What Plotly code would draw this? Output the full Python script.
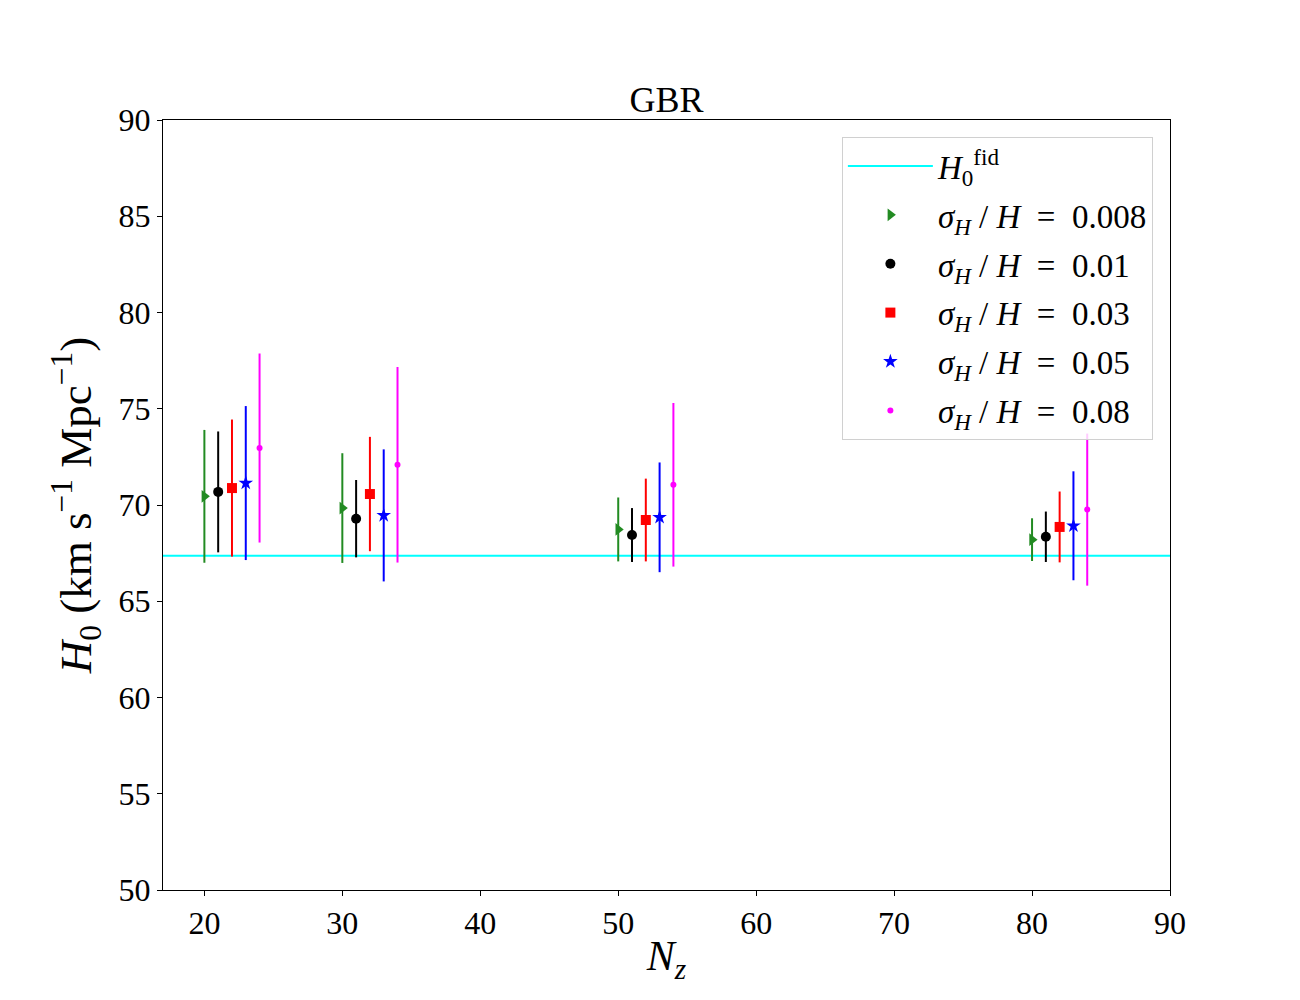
import plotly.graph_objects as go

# ---- data ----
N_groups = [20, 30, 50, 80]
offsets = [0, 1, 2, 3, 4]
labels = ["0.008", "0.01", "0.03", "0.05", "0.08"]
colors = ["forestgreen", "black", "red", "blue", "magenta"]
symbols = ["triangle-right", "circle", "square", "star", "circle"]
sizes = [11, 10, 10, 11, 6]

H0_008 = [70.45, 69.84, 68.73, 68.20]
E_008 = [3.45, 2.85, 1.66, 1.11]
H0_01 = [70.68, 69.29, 68.44, 68.35]
E_01 = [3.14, 2.01, 1.40, 1.31]
H0_03 = [70.88, 70.57, 69.22, 68.86]
E_03 = [3.56, 2.97, 2.15, 1.84]
H0_05 = [71.14, 69.46, 69.36, 68.92]
E_05 = [4.00, 3.43, 2.85, 2.83]
H0_08 = [72.96, 72.09, 71.05, 69.76]
E_08 = [4.91, 5.08, 4.25, 3.95]

H0_fid = 67.37
X_RANGE = [17, 90]
Y_RANGE = [50, 90]

values = [H0_008, H0_01, H0_03, H0_05, H0_08]
errors = [E_008, E_01, E_03, E_05, E_08]

FONT = "Liberation Serif"

fig = go.Figure()

fig.add_trace(go.Scatter(
    x=X_RANGE, y=[H0_fid, H0_fid], mode="lines",
    line=dict(color="cyan", width=2),
    name="<i>H</i><sub>0</sub><sup>fid</sup>",
    legendgroup="fid",
))

for i in range(5):
    fig.add_trace(go.Scatter(
        x=[n + offsets[i] for n in N_groups],
        y=values[i],
        mode="markers",
        marker=dict(color=colors[i], symbol=symbols[i], size=sizes[i],
                    line=dict(width=0)),
        error_y=dict(type="data", array=errors[i], visible=True,
                     color=colors[i], thickness=2, width=0),
        name="<i>σ<sub>H</sub></i> / <i>H</i>  =  " + labels[i],
        legendgroup="g" + labels[i],
    ))

fig.update_layout(
    width=1300, height=1000,
    margin=dict(l=155, r=138, t=112, b=118),
    plot_bgcolor="white", paper_bgcolor="white",
    font=dict(family=FONT, size=32, color="black"),
    title=dict(text="GBR", x=0.5, xref="paper", xanchor="center",
               y=1, yref="paper", yanchor="bottom", pad=dict(b=8),
               font=dict(family=FONT, size=36)),
    showlegend=True,
    legend=dict(x=0.983, y=0.978, xanchor="right", yanchor="top",
                bgcolor="rgba(255,255,255,0.8)",
                bordercolor="#d0d0d0", borderwidth=1,
                font=dict(family=FONT, size=33),
                tracegroupgap=3, itemwidth=85),
)

fig.update_xaxes(
    range=X_RANGE, tick0=20, dtick=10, showgrid=False, zeroline=False,
    showline=True, linecolor="black", linewidth=1, mirror=True,
    ticks="outside", ticklen=5, tickcolor="black",
    tickfont=dict(family=FONT, size=32),
    title=dict(text="<i>N<sub>z</sub></i>", font=dict(family=FONT, size=42), standoff=0),
)
fig.update_yaxes(
    range=Y_RANGE, tick0=50, dtick=5, showgrid=False, zeroline=False,
    showline=True, linecolor="black", linewidth=1, mirror=True,
    ticks="outside", ticklen=5, tickcolor="black",
    tickfont=dict(family=FONT, size=32),
    title=dict(text="<i>H</i><sub>0</sub> (km s<sup>−1</sup> Mpc<sup>−1</sup>)",
               font=dict(family=FONT, size=45), standoff=12),
)

fig.write_html("out.html")
